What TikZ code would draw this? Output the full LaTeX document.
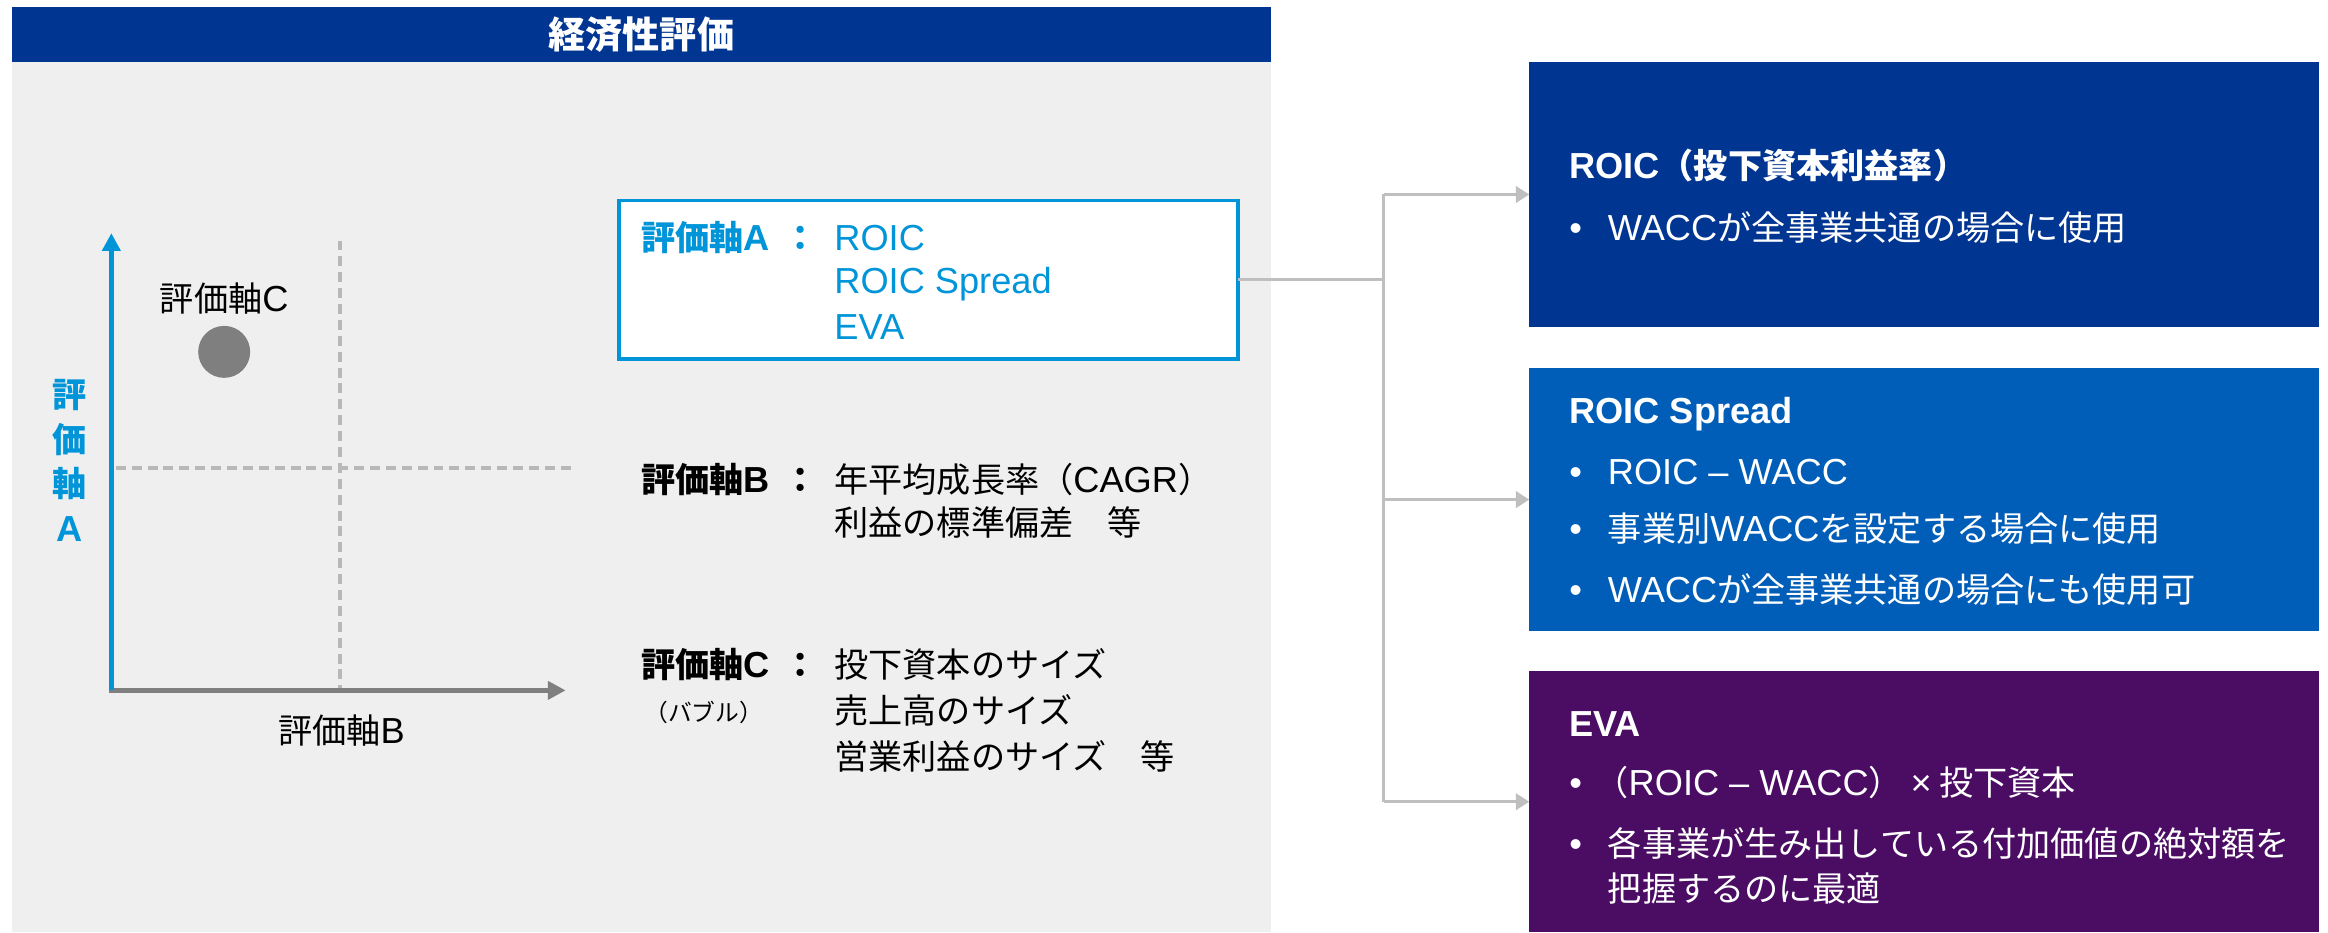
\documentclass[tikz,border=0pt]{standalone}
\usepackage{fontspec}
\setmainfont{Noto Sans CJK JP}
\newfontfamily\latfont{Liberation Sans}[Scale=1.06]
\newcommand{\LL}[1]{{\latfont #1}}
\newcommand{\cln}{\kern9pt：}
\usetikzlibrary{arrows.meta}
\definecolor{navy}{RGB}{0,53,145}
\definecolor{midblue}{RGB}{0,94,184}
\definecolor{evapurple}{RGB}{75,12,99}
\definecolor{axisblue}{RGB}{0,149,217}
\definecolor{panelgray}{RGB}{239,239,239}
\definecolor{dashgray}{RGB}{184,184,184}
\definecolor{axisgray}{RGB}{127,127,127}
\definecolor{conngray}{RGB}{191,191,191}
\begin{document}
\begin{tikzpicture}[x=1pt,y=-1pt,
  every node/.style={inner sep=0pt, outer sep=0pt},
  fs/.style={font=\fontsize{23}{30}\selectfont},
  fsb/.style={font=\fontsize{23}{30}\selectfont\bfseries},
  txt/.style={fs, anchor=base west},
  txtb/.style={fsb, anchor=base west},
  rbox/.style={minimum width=532pt, minimum height=178pt, anchor=north west},
  wt/.style={txt, text=white},
  wtb/.style={txtb, text=white},
  conn/.style={conngray, line width=2pt},
  conntip/.style={conn, -{Triangle[length=9pt,width=11pt]}},
  dashln/.style={dashgray, line width=2.5pt, dash pattern=on 6.7pt off 4pt}
]
\useasboundingbox (0,0) rectangle (1568,628);

% left panel
\node[fill=panelgray, minimum width=848pt, minimum height=586pt, anchor=north west] (panel) at (8,42) {};
\node[fill=navy, minimum width=848pt, minimum height=37pt, anchor=north west] (hdr) at (8,5) {};
\node[font=\fontsize{25}{30}\selectfont\bfseries, text=white] (hdrtxt) at (432,23.5) {経済性評価};

% chart
\coordinate (O) at (75,465);
\coordinate (ytop) at (75,157);
\coordinate (xend) at (381,465);
\coordinate (dv1) at (229,162);
\coordinate (dv2) at (229,465);
\coordinate (dh1) at (78,315);
\coordinate (dh2) at (385,315);
\draw[dashln] (dv1) -- (dv2);
\draw[dashln] (dh1) -- (dh2);
\draw[axisgray, line width=3.3pt, -{Triangle[length=12pt,width=12pt]}] ([xshift=-1.7pt]O) -- (xend);
\draw[axisblue, line width=3.5pt, -{Triangle[length=12pt,width=12pt]}] (O) -- (ytop);
\node[circle, fill=axisgray, minimum size=35pt] (bub) at (151,237) {};
\node[txt, anchor=base] (labc) at (151,210) {評価軸\LL{C}};
\node[txt, anchor=base] (labb) at (230,501) {評価軸\LL{B}};
\node[fsb, text=axisblue, align=center] (laba) at (47,310) {評\\価\\軸\\\LL{A}};

% criteria box A
\node[draw=axisblue, line width=2.5pt, fill=white, minimum width=417pt, minimum height=107pt, anchor=north west] (boxA) at (417,135) {};
\node[txtb, text=axisblue] (ka) at (432,169) {評価軸\LL{A}\cln};
\node[txt, text=axisblue] (va1) at (562,169) {\LL{ROIC}};
\node[txt, text=axisblue] (va2) at (562,198) {\LL{ROIC Spread}};
\node[txt, text=axisblue] (va3) at (562,229) {\LL{EVA}};

% criteria B
\node[txtb] (kb) at (432,332) {評価軸\LL{B}\cln};
\node[txt] (vb1) at (562,332) {年平均成長率（\LL{CAGR}）};
\node[txt] (vb2) at (562,361) {利益の標準偏差　等};

% criteria C
\node[txtb] (kc) at (432,456) {評価軸\LL{C}\cln};
\node[font=\fontsize{16}{20}\selectfont, anchor=base west] (kc2) at (434,486) {（バブル）};
\node[txt] (vc1) at (562,456) {投下資本のサイズ};
\node[txt] (vc2) at (562,487) {売上高のサイズ};
\node[txt] (vc3) at (562,518) {営業利益のサイズ　等};

% right boxes
\node[rbox, fill=navy] (b1) at (1030,42) {};
\node[rbox, fill=midblue, minimum height=177pt] (b2) at (1030,248) {};
\node[rbox, fill=evapurple, minimum height=176pt] (b3) at (1030,452) {};

\node[wtb] (t1) at (1057,120) {\LL{ROIC}（投下資本利益率）};
\node[wt] (p1a) at (1057,162) {\LL{•}};
\node[wt] (t1a) at (1083,162) {\LL{WACC}が全事業共通の場合に使用};

\node[wtb] (t2) at (1057,285) {\LL{ROIC Spread}};
\node[wt] (p2a) at (1057,326) {\LL{•}};
\node[wt] (t2a) at (1083,326) {\LL{ROIC – WACC}};
\node[wt] (p2b) at (1057,365) {\LL{•}};
\node[wt] (t2b) at (1083,365) {事業別\LL{WACC}を設定する場合に使用};
\node[wt] (p2c) at (1057,406) {\LL{•}};
\node[wt] (t2c) at (1083,406) {\LL{WACC}が全事業共通の場合にも使用可};

\node[wtb] (t3) at (1057,496) {\LL{EVA}};
\node[wt] (p3a) at (1057,536) {\LL{•}};
\node[wt] (t3a) at (1074,536) {（\LL{ROIC – WACC}） \LL{×} 投下資本};
\node[wt] (p3b) at (1057,577) {\LL{•}};
\node[wt] (t3b) at (1083,577) {各事業が生み出している付加価値の絶対額を};
\node[wt] (t3c) at (1083,607) {把握するのに最適};

% connectors
\coordinate (bus) at (932,0);
\draw[conn] (boxA.east) -- (boxA.east -| bus);
\draw[conn] (b1.west -| bus) -- (b3.west -| bus);
\draw[conntip] (b1.west -| bus) -- (b1.west);
\draw[conntip] (b2.west -| bus) -- (b2.west);
\draw[conntip] (b3.west -| bus) -- (b3.west);
\end{tikzpicture}
\end{document}
